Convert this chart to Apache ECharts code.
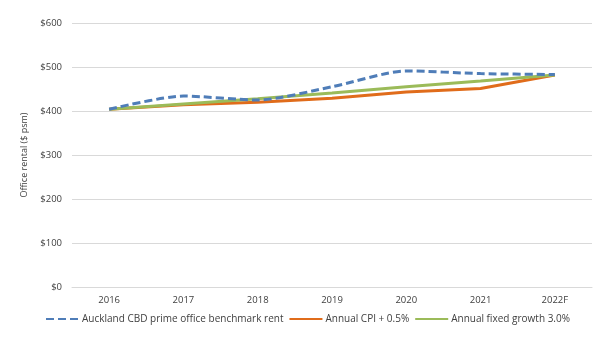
<!DOCTYPE html>
<html>
<head>
<meta charset="utf-8">
<script src="https://cdn.jsdelivr.net/npm/echarts@6/dist/echarts.min.js"></script>
<style>
  html, body { margin: 0; padding: 0; background: #fff; }
  #chart { width: 613px; height: 337px; }
</style>
</head>
<body>
<div id="chart"></div>
<script>
// Office rent history vs. two escalation benchmarks
const years = ['2016', '2017', '2018', '2019', '2020', '2021', '2022F'];
const benchmarkRent = [404, 434, 425, 455, 491, 485, 483];
const cpiPlus = [404, 414, 420, 429, 443, 451, 482];
const fixedGrowth = [404, 416, 428, 441, 455, 468, 482];
const seriesNames = [
  'Auckland CBD prime office benchmark rent',
  'Annual CPI + 0.5%',
  'Annual fixed growth 3.0%'
];

const FONT = '"Open Sans", Lato, sans-serif';
const chart = echarts.init(document.getElementById('chart'), null, { renderer: 'canvas' });

chart.setOption({
  animation: false,
  textStyle: { fontFamily: FONT, color: '#404040' },
  grid: { left: 72, right: 21, top: 23, bottom: 50, containLabel: false },
  xAxis: {
    type: 'category',
    data: years,
    boundaryGap: true,
    axisLine: { show: true, lineStyle: { color: '#d9d9d9', width: 1 } },
    axisTick: { show: false },
    axisLabel: { fontSize: 9.5, color: '#404040', margin: 8, fontFamily: FONT }
  },
  yAxis: {
    type: 'value',
    min: 0, max: 600, interval: 100,
    name: 'Office rental ($ psm)',
    nameLocation: 'middle',
    nameGap: 21,
    nameTextStyle: { fontSize: 9, color: '#404040', fontFamily: FONT },
    axisLine: { show: false },
    axisTick: { show: false },
    splitLine: { lineStyle: { color: '#d9d9d9', width: 1 } },
    axisLabel: { fontSize: 9.5, color: '#404040', margin: 10, fontFamily: FONT,
      formatter: v => '$' + v }
  },
  legend: {
    bottom: 8,
    left: 40,
    itemWidth: 33,
    itemHeight: 10,
    itemGap: 5,
    itemStyle: { opacity: 0 },
    textStyle: { fontSize: 10, color: '#404040', fontFamily: FONT, padding: [0, 0, 0, -2] },
    data: seriesNames
  },
  series: [
    {
      name: seriesNames[0], type: 'line', data: benchmarkRent,
      smooth: 0.25, symbol: 'none', z: 3,
      lineStyle: { color: '#4f7db8', width: 3, type: [8, 4] },
      itemStyle: { color: '#4f7db8' }
    },
    {
      name: seriesNames[1], type: 'line', data: cpiPlus,
      symbol: 'none', z: 1,
      lineStyle: { color: '#e06c1b', width: 3 },
      itemStyle: { color: '#e06c1b' }
    },
    {
      name: seriesNames[2], type: 'line', data: fixedGrowth,
      symbol: 'none', z: 2,
      lineStyle: { color: '#9bbb59', width: 3 },
      itemStyle: { color: '#9bbb59' }
    }
  ]
});
</script>
</body>
</html>
